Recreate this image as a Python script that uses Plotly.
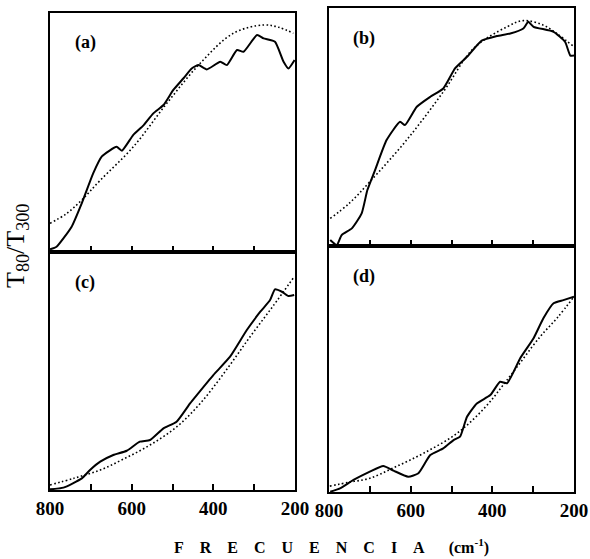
import plotly.graph_objects as go

# ---- data (normalized ordinate, frequency in cm^-1) ----
a_exp_f = [800, 784, 747, 722, 694, 673, 637, 624, 596, 571, 547, 522, 498, 473, 453, 436, 416, 383, 367, 342, 326, 293, 277, 249, 228, 216, 201]
a_exp_v = [0.011, 0.022, 0.106, 0.205, 0.33, 0.40, 0.44, 0.424, 0.49, 0.53, 0.58, 0.615, 0.678, 0.727, 0.768, 0.782, 0.764, 0.796, 0.782, 0.845, 0.838, 0.908, 0.894, 0.88, 0.796, 0.768, 0.803]
a_fit_f = [800, 760, 722, 677, 596, 514, 432, 351, 277, 240, 204]
a_fit_v = [0.12, 0.16, 0.218, 0.30, 0.44, 0.622, 0.79, 0.915, 0.95, 0.94, 0.915]

b_exp_f = [797, 781, 769, 744, 720, 706, 687, 659, 626, 614, 585, 552, 520, 491, 462, 426, 389, 356, 324, 312, 299, 250, 222, 209, 200]
b_exp_v = [0.025, 0.004, 0.046, 0.074, 0.137, 0.235, 0.32, 0.445, 0.522, 0.508, 0.585, 0.627, 0.662, 0.747, 0.795, 0.863, 0.882, 0.893, 0.914, 0.942, 0.921, 0.90, 0.858, 0.80, 0.80]
b_fit_f = [797, 750, 700, 610, 520, 446, 364, 324, 275, 240, 200]
b_fit_v = [0.116, 0.18, 0.27, 0.445, 0.648, 0.83, 0.921, 0.947, 0.928, 0.89, 0.837]

c_exp_f = [800, 767, 722, 702, 677, 645, 612, 580, 555, 522, 490, 457, 440, 400, 359, 318, 285, 261, 249, 232, 216, 202]
c_exp_v = [0.003, 0.01, 0.049, 0.084, 0.119, 0.147, 0.165, 0.203, 0.21, 0.259, 0.287, 0.364, 0.40, 0.483, 0.56, 0.672, 0.749, 0.798, 0.843, 0.833, 0.815, 0.819]
c_fit_f = [800, 740, 677, 620, 555, 490, 432, 370, 310, 255, 202]
c_fit_v = [0.021, 0.05, 0.084, 0.13, 0.189, 0.265, 0.364, 0.50, 0.644, 0.77, 0.896]

d_exp_f = [797, 773, 740, 700, 667, 642, 606, 581, 552, 520, 495, 479, 462, 438, 405, 381, 364, 332, 299, 275, 250, 226, 200]
d_exp_v = [0.001, 0.015, 0.049, 0.083, 0.106, 0.087, 0.062, 0.076, 0.15, 0.177, 0.211, 0.225, 0.306, 0.36, 0.394, 0.448, 0.442, 0.543, 0.625, 0.706, 0.767, 0.78, 0.794]
d_fit_f = [798, 750, 700, 640, 569, 487, 420, 364, 283, 240, 200]
d_fit_v = [0.024, 0.04, 0.056, 0.10, 0.157, 0.238, 0.34, 0.455, 0.631, 0.71, 0.794]

panel_labels = ["(a)", "(b)", "(c)", "(d)"]

W, H = 590, 559
def px(x): return x / W
def py(y): return 1 - y / H

panels = [
    (a_exp_f, a_exp_v, a_fit_f, a_fit_v, (50, 295), (13, 252), False),
    (b_exp_f, b_exp_v, b_fit_f, b_fit_v, (329, 574), (8, 246), False),
    (c_exp_f, c_exp_v, c_fit_f, c_fit_v, (50, 295), (252, 490), True),
    (d_exp_f, d_exp_v, d_fit_f, d_fit_v, (329, 574), (246, 492), True),
]

fig = go.Figure()
layout = dict(width=W, height=H, margin=dict(l=0, r=0, t=0, b=0, autoexpand=False),
              template="none",
              paper_bgcolor="white", plot_bgcolor="white", showlegend=False)
annotations = []
serif = "Liberation Serif"

for i, (ef, ev, ff, fv, xd, yd, show_lbl) in enumerate(panels):
    n = "" if i == 0 else str(i + 1)
    xa, ya = "x" + n, "y" + n
    fig.add_trace(go.Scatter(x=ff, y=fv, mode="lines", xaxis=xa, yaxis=ya,
                             line=dict(color="black", width=1.6, dash="1.6px,2.4px", shape="spline")))
    fig.add_trace(go.Scatter(x=ef, y=ev, mode="lines", xaxis=xa, yaxis=ya,
                             line=dict(color="black", width=2, shape="spline", smoothing=0.5)))
    layout["xaxis" + n] = dict(domain=[px(xd[0]), px(xd[1])], range=[800, 200], anchor=ya,
                               tick0=200, dtick=200, showticklabels=show_lbl,
                               ticks="inside", ticklen=6, tickwidth=1.5, tickcolor="black",
                               minor=dict(dtick=100, tick0=200, ticks="inside", ticklen=6,
                                          tickwidth=1.5, tickcolor="black", showgrid=False),
                               showline=True, mirror=True, linecolor="black", linewidth=1.6,
                               showgrid=False, zeroline=False, automargin=False,
                               tickfont=dict(family=serif, size=19, color="black", weight="bold"))
    layout["yaxis" + n] = dict(domain=[py(yd[1]), py(yd[0])], range=[0, 1], anchor=xa,
                               showticklabels=False, ticks="", showline=True, mirror=True,
                               linecolor="black", linewidth=1.6, showgrid=False, zeroline=False,
                               automargin=False)
    annotations.append(dict(text=panel_labels[i], xref="paper", yref="paper",
                            x=px(xd[0] + 35), y=py(yd[0] + 30), showarrow=False,
                            xanchor="center", yanchor="middle",
                            font=dict(family=serif, size=18, color="black", weight="bold")))

annotations.append(dict(text="T<sub>80</sub>/T<sub>300</sub>", xref="paper", yref="paper",
                        x=px(17), y=py(246), textangle=-90, showarrow=False,
                        xanchor="center", yanchor="middle",
                        font=dict(family=serif, size=26, color="black")))
sp = "&nbsp;" * 4
xtitle = sp.join(list("FRECUENCIA")) + "&nbsp;" * 6 + "(cm<sup>-1</sup>)"
annotations.append(dict(text=xtitle, xref="paper", yref="paper",
                        x=px(331), y=py(546), showarrow=False,
                        xanchor="center", yanchor="middle",
                        font=dict(family=serif, size=16, color="black", weight="bold")))
layout["annotations"] = annotations
fig.update_layout(**layout)
fig.write_html("out.html", config={"displayModeBar": False},
               post_script="document.body.style.margin='0';")
